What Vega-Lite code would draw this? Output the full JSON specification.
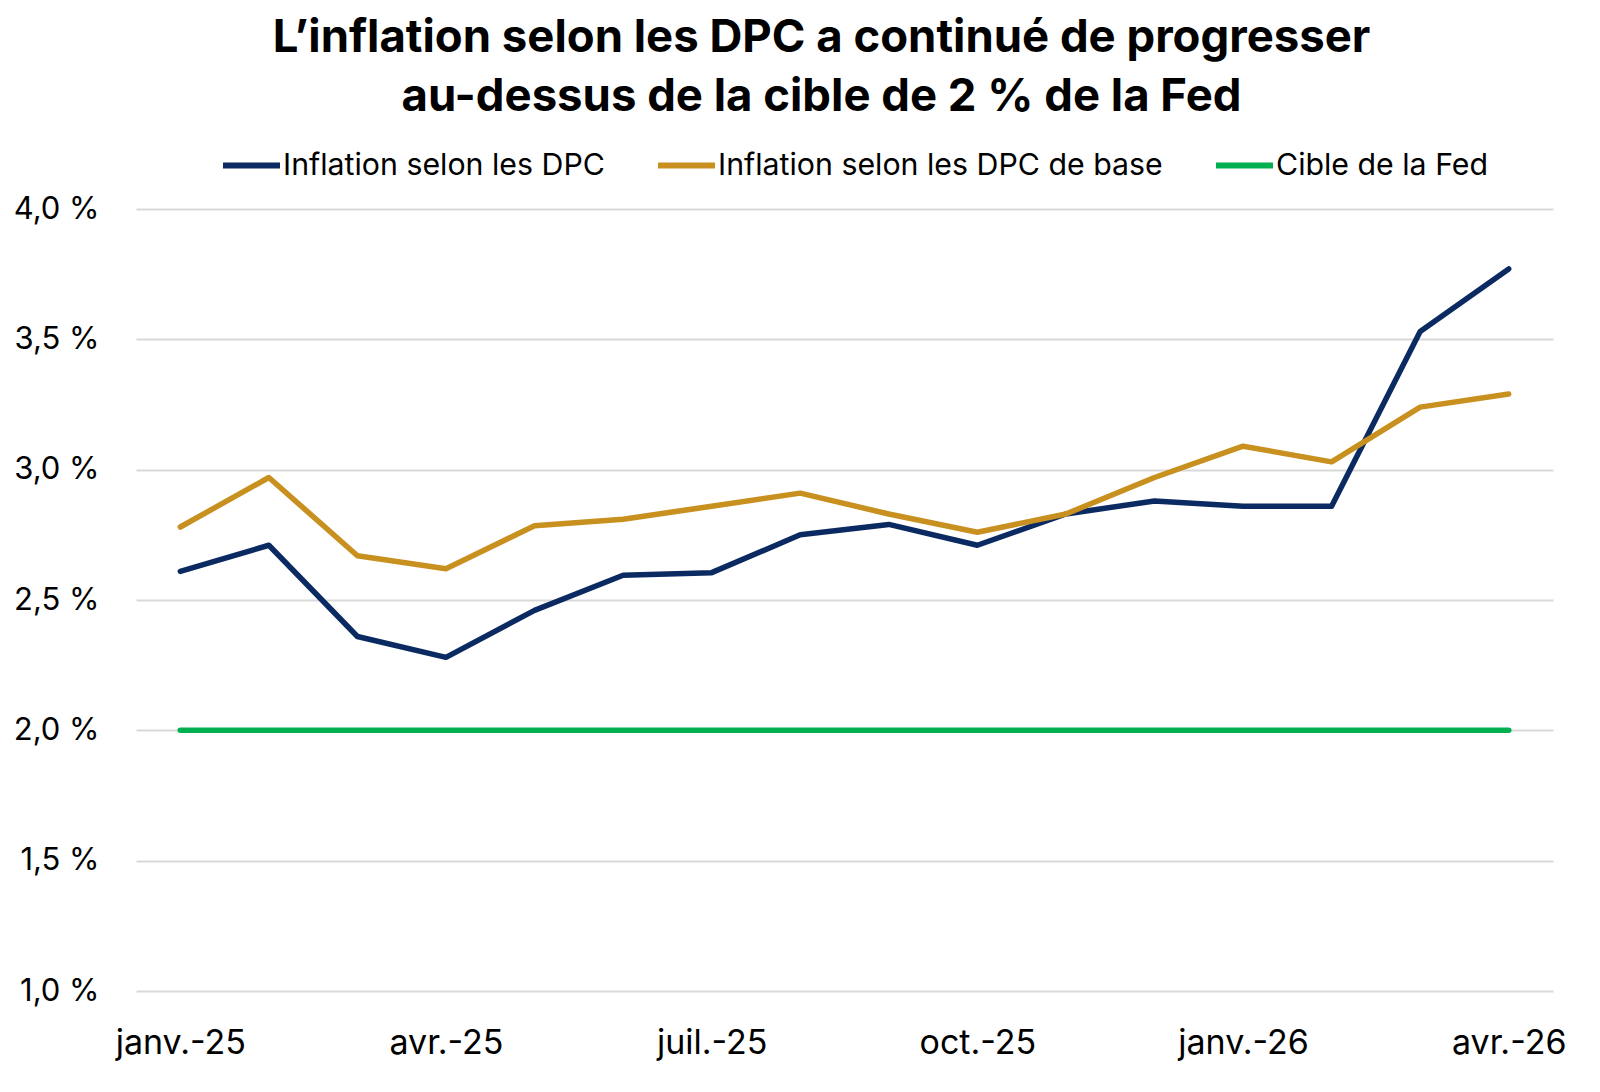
{
  "$schema": "https://vega.github.io/schema/vega-lite/v6.json",
  "autosize": {"type": "none"},
  "width": 1417,
  "height": 782,
  "padding": {"left": 136, "top": 209, "right": 47, "bottom": 101},
  "background": "white",
  "title": {
    "text": ["L’inflation selon les DPC a continué de progresser", "au-dessus de la cible de 2 % de la Fed"],
    "font": "Inter",
    "fontSize": 45.5,
    "fontWeight": "bold",
    "color": "#000000",
    "anchor": "middle",
    "lineHeight": 59,
    "baseline": "alphabetic",
    "offset": -22,
    "dx": -23
  },
  "data": {
    "values": [
      {"mois": "janv.-25", "serie": "Inflation selon les DPC", "valeur": 2.61},
      {"mois": "févr.-25", "serie": "Inflation selon les DPC", "valeur": 2.71},
      {"mois": "mars-25", "serie": "Inflation selon les DPC", "valeur": 2.36},
      {"mois": "avr.-25", "serie": "Inflation selon les DPC", "valeur": 2.28},
      {"mois": "mai-25", "serie": "Inflation selon les DPC", "valeur": 2.46},
      {"mois": "juin-25", "serie": "Inflation selon les DPC", "valeur": 2.595},
      {"mois": "juil.-25", "serie": "Inflation selon les DPC", "valeur": 2.605},
      {"mois": "août-25", "serie": "Inflation selon les DPC", "valeur": 2.75},
      {"mois": "sept.-25", "serie": "Inflation selon les DPC", "valeur": 2.79},
      {"mois": "oct.-25", "serie": "Inflation selon les DPC", "valeur": 2.71},
      {"mois": "nov.-25", "serie": "Inflation selon les DPC", "valeur": 2.83},
      {"mois": "déc.-25", "serie": "Inflation selon les DPC", "valeur": 2.88},
      {"mois": "janv.-26", "serie": "Inflation selon les DPC", "valeur": 2.86},
      {"mois": "févr.-26", "serie": "Inflation selon les DPC", "valeur": 2.86},
      {"mois": "mars-26", "serie": "Inflation selon les DPC", "valeur": 3.53},
      {"mois": "avr.-26", "serie": "Inflation selon les DPC", "valeur": 3.77},
      {"mois": "janv.-25", "serie": "Inflation selon les DPC de base", "valeur": 2.78},
      {"mois": "févr.-25", "serie": "Inflation selon les DPC de base", "valeur": 2.97},
      {"mois": "mars-25", "serie": "Inflation selon les DPC de base", "valeur": 2.67},
      {"mois": "avr.-25", "serie": "Inflation selon les DPC de base", "valeur": 2.62},
      {"mois": "mai-25", "serie": "Inflation selon les DPC de base", "valeur": 2.785},
      {"mois": "juin-25", "serie": "Inflation selon les DPC de base", "valeur": 2.81},
      {"mois": "juil.-25", "serie": "Inflation selon les DPC de base", "valeur": 2.86},
      {"mois": "août-25", "serie": "Inflation selon les DPC de base", "valeur": 2.91},
      {"mois": "sept.-25", "serie": "Inflation selon les DPC de base", "valeur": 2.83},
      {"mois": "oct.-25", "serie": "Inflation selon les DPC de base", "valeur": 2.76},
      {"mois": "nov.-25", "serie": "Inflation selon les DPC de base", "valeur": 2.83},
      {"mois": "déc.-25", "serie": "Inflation selon les DPC de base", "valeur": 2.97},
      {"mois": "janv.-26", "serie": "Inflation selon les DPC de base", "valeur": 3.09},
      {"mois": "févr.-26", "serie": "Inflation selon les DPC de base", "valeur": 3.03},
      {"mois": "mars-26", "serie": "Inflation selon les DPC de base", "valeur": 3.24},
      {"mois": "avr.-26", "serie": "Inflation selon les DPC de base", "valeur": 3.29},
      {"mois": "janv.-25", "serie": "Cible de la Fed", "valeur": 2.0},
      {"mois": "févr.-25", "serie": "Cible de la Fed", "valeur": 2.0},
      {"mois": "mars-25", "serie": "Cible de la Fed", "valeur": 2.0},
      {"mois": "avr.-25", "serie": "Cible de la Fed", "valeur": 2.0},
      {"mois": "mai-25", "serie": "Cible de la Fed", "valeur": 2.0},
      {"mois": "juin-25", "serie": "Cible de la Fed", "valeur": 2.0},
      {"mois": "juil.-25", "serie": "Cible de la Fed", "valeur": 2.0},
      {"mois": "août-25", "serie": "Cible de la Fed", "valeur": 2.0},
      {"mois": "sept.-25", "serie": "Cible de la Fed", "valeur": 2.0},
      {"mois": "oct.-25", "serie": "Cible de la Fed", "valeur": 2.0},
      {"mois": "nov.-25", "serie": "Cible de la Fed", "valeur": 2.0},
      {"mois": "déc.-25", "serie": "Cible de la Fed", "valeur": 2.0},
      {"mois": "janv.-26", "serie": "Cible de la Fed", "valeur": 2.0},
      {"mois": "févr.-26", "serie": "Cible de la Fed", "valeur": 2.0},
      {"mois": "mars-26", "serie": "Cible de la Fed", "valeur": 2.0},
      {"mois": "avr.-26", "serie": "Cible de la Fed", "valeur": 2.0}
    ]
  },
  "mark": {"type": "line", "strokeWidth": 5.5, "strokeCap": "round", "strokeJoin": "round"},
  "encoding": {
    "x": {
      "field": "mois",
      "type": "ordinal",
      "sort": ["janv.-25","févr.-25","mars-25","avr.-25","mai-25","juin-25","juil.-25","août-25","sept.-25","oct.-25","nov.-25","déc.-25","janv.-26","févr.-26","mars-26","avr.-26"],
      "scale": {"type": "point", "padding": 0.5},
      "axis": {
        "title": null,
        "values": ["janv.-25","avr.-25","juil.-25","oct.-25","janv.-26","avr.-26"],
        "labelAngle": 0,
        "labelFont": "Inter",
        "labelFontSize": 34,
        "labelColor": "#000000",
        "labelPadding": 35,
        "labelOverlap": false,
        "ticks": false,
        "domain": false,
        "grid": false
      }
    },
    "y": {
      "field": "valeur",
      "type": "quantitative",
      "scale": {"domain": [1, 4], "nice": false, "zero": false},
      "axis": {
        "title": null,
        "values": [1, 1.5, 2, 2.5, 3, 3.5, 4],
        "labelExpr": "replace(format(datum.value, '.1f'), '.', ',') + ' %'",
        "labelFont": "Inter",
        "labelFontSize": 31,
        "labelColor": "#000000",
        "labelPadding": 37,
        "ticks": false,
        "domain": false,
        "grid": true,
        "gridColor": "#d9d9d9",
        "gridWidth": 2
      }
    },
    "color": {
      "field": "serie",
      "type": "nominal",
      "sort": ["Inflation selon les DPC", "Inflation selon les DPC de base", "Cible de la Fed"],
      "scale": {
        "domain": ["Inflation selon les DPC", "Inflation selon les DPC de base", "Cible de la Fed"],
        "range": ["#0b2a62", "#c8901e", "#00b050"]
      },
      "legend": {
        "title": null,
        "orient": "none",
        "direction": "horizontal",
        "legendX": 84,
        "legendY": -75,
        "symbolType": "stroke",
        "symbolSize": 3249,
        "symbolStrokeWidth": 6,
        "labelFont": "Inter",
        "labelFontSize": 30.3,
        "labelColor": "#000000",
        "labelOffset": 0,
        "columnPadding": 41,
        "labelLimit": 600
      }
    }
  },
  "config": {"view": {"stroke": null}}
}
